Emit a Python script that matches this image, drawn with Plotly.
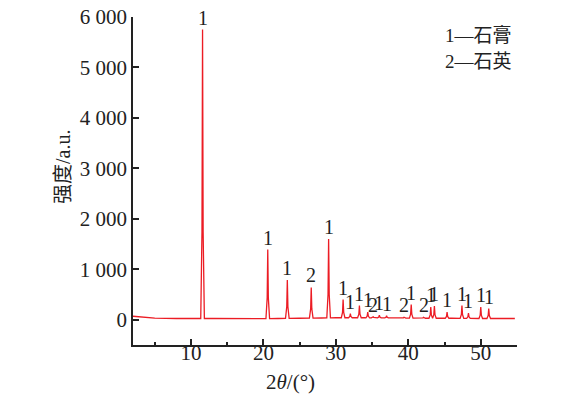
import plotly.graph_objects as go

# ---- data ----
peak_pos = [11.6, 20.6, 23.3, 26.6, 29.0, 31.0, 32.0, 33.25, 34.4, 35.15, 36.0, 37.0,
            39.4, 40.4, 42.1, 43.1, 43.6, 45.35, 47.4, 48.3, 50.0, 51.1]
peak_height = [5750, 1390, 790, 640, 1600, 400, 120, 280, 150, 60, 90, 80,
               50, 300, 50, 250, 270, 150, 280, 130, 250, 220]
peak_label = ["1", "1", "1", "2", "1", "1", "1", "1", "1", "2", "1", "1",
              "2", "1", "2", "1", "1", "1", "1", "1", "1", "1"]

base_x = [2.0, 2.6, 3.5, 5.0, 8.0, 10.5, 13.0, 18.0, 22.0, 25.0, 28.0, 30.0,
          34.0, 38.0, 42.0, 46.0, 50.0, 52.0, 54.7]
base_y = [70, 60, 45, 32, 25, 25, 25, 22, 25, 30, 35, 40, 40, 35, 30, 30, 25, 25, 25]

x_ticks = [10, 20, 30, 40, 50]
x_minor = [5, 15, 25, 35, 45]
y_ticks = [0, 1000, 2000, 3000, 4000, 5000, 6000]

legend_lines = ["1\u2014石膏", "2\u2014石英"]
x_title = "2<i>θ</i>/(°)"
y_title = "强度/a.u."

# ---- build profile from baseline + peaks ----
def base_at(x):
    for i in range(len(base_x) - 1):
        if base_x[i] <= x <= base_x[i + 1]:
            t = (x - base_x[i]) / (base_x[i + 1] - base_x[i])
            return base_y[i] + t * (base_y[i + 1] - base_y[i])
    return base_y[-1]

pts = [q for q in zip(base_x, base_y)
       if not any(abs(q[0] - pp) < 0.25 for pp in peak_pos)]
for p, h in zip(peak_pos, peak_height):
    b = base_at(p)
    pts += [(p - 0.25, b), (p - 0.08, b + 0.3 * (h - b)), (p, h),
            (p + 0.08, b + 0.3 * (h - b)), (p + 0.25, b)]
pts.sort()
xs = [q[0] for q in pts]
ys = [q[1] for q in pts]

FONT = "Liberation Serif, Noto Sans CJK SC, serif"
XR = [2, 55]

fig = go.Figure()
fig.add_trace(go.Scatter(x=xs, y=ys, mode="lines",
                         line=dict(color="#ec1c24", width=1.3), showlegend=False))
# helper trace so the label axis (x2) is drawn
fig.add_trace(go.Scatter(x=XR, y=[0, 0], xaxis="x2", mode="lines",
                         line=dict(width=0, color="rgba(0,0,0,0)"),
                         hoverinfo="skip", showlegend=False))

for p, h, lab in zip(peak_pos, peak_height, peak_label):
    fig.add_annotation(x=p, y=h, text=lab, showarrow=False, yanchor="bottom",
                       yshift=-1, font=dict(family=FONT, size=20, color="#222"))

for i, t in enumerate(legend_lines):
    fig.add_annotation(xref="paper", yref="paper", x=0.807, y=0.945 - i * 0.082,
                       text=t, showarrow=False, xanchor="left", yanchor="middle",
                       font=dict(family=FONT, size=19, color="#222"))

fig.add_annotation(xref="paper", yref="paper", x=0.409, y=-0.113, text=x_title,
                   showarrow=False, xanchor="center", yanchor="middle",
                   font=dict(family=FONT, size=21, color="#222"))
fig.add_annotation(xref="paper", yref="paper", x=-0.182, y=0.543, text=y_title,
                   showarrow=False, textangle=-90, xanchor="center", yanchor="middle",
                   font=dict(family=FONT, size=20, color="#222"))

fig.update_layout(
    width=565, height=390,
    margin=dict(l=125, r=56, t=9, b=53, autoexpand=False),
    plot_bgcolor="white", paper_bgcolor="white",
    separators=". ",
    font=dict(family=FONT, size=21, color="#222"),
    xaxis=dict(range=XR, tickvals=x_ticks, ticks="inside", showticklabels=False,
               ticklen=6, tickwidth=1.5, tickcolor="#222", automargin=False,
               minor=dict(tickvals=x_minor, ticks="inside", ticklen=3,
                          tickwidth=1.5, tickcolor="#222"),
               showline=True, linecolor="#222", linewidth=1.5,
               showgrid=False, zeroline=False),
    xaxis2=dict(range=XR, tickvals=x_ticks, overlaying="x", anchor="free",
                position=0.022, side="bottom", ticks="", showline=False,
                showgrid=False, zeroline=False, automargin=False,
                ticklabeloverflow="allow"),
    yaxis=dict(range=[-500, 6000], tickvals=y_ticks,
               tickformat=",d", ticks="inside", ticklen=6, tickwidth=1.5,
               tickcolor="#222", showline=True, linecolor="#222", linewidth=1.5,
               showgrid=False, zeroline=False, automargin=False,
               ticklabeloverflow="allow"),
)

fig.write_html("out.html")
